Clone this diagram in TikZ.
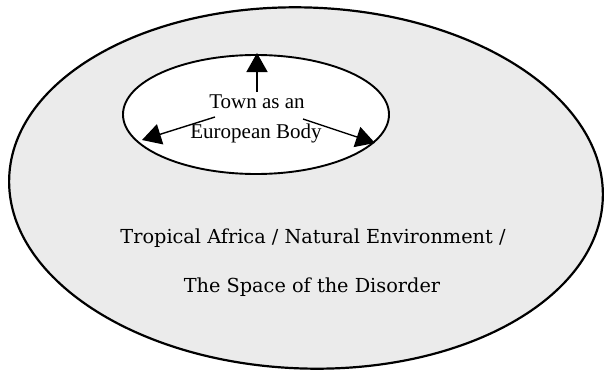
\documentclass[tikz,border=0pt]{standalone}
\usepackage{fontspec}
\setmainfont{Liberation Serif}
\newfontfamily\centfont{DejaVu Serif}
\usetikzlibrary{arrows.meta,shapes.geometric}
\tikzset{
  outerline/.style={line width=2.2pt, fill=black!8},
  innerline/.style={line width=1.9pt, fill=white},
  bigarrow/.style={line width=1.4pt, -{Triangle[length=19pt,width=21pt]}},
  towntext/.style={font=\fontsize{21}{25}\selectfont, inner sep=0pt},
  spacetext/.style={font=\centfont\fontsize{19.3}{23}\selectfont, inner sep=0pt}
}
\begin{document}
\begin{tikzpicture}[x=1pt,y=-1pt]
\useasboundingbox (0,0) rectangle (606,370);
\draw[outerline, rotate around={-2:(306,188)}] (306,188) ellipse [x radius=297, y radius=180.5];
\node[innerline, draw, ellipse, minimum width=266pt, minimum height=119pt, inner sep=0pt] (town) at (256,114.5) {};
\node[towntext] (t1) at (257,102) {Town as an};
\node[towntext] (t2) at (256,133) {European Body};
\coordinate (upS) at (257,92);
\coordinate (upT) at (257,53);
\coordinate (leftS) at (215,117);
\coordinate (leftT) at (142,140);
\coordinate (rightS) at (303,119);
\coordinate (rightT) at (375,143);
\draw[bigarrow] (upS) -- (upT);
\draw[bigarrow] (leftS) -- (leftT);
\draw[bigarrow] (rightS) -- (rightT);
\node[spacetext] (s1) at (313,238) {Tropical Africa / Natural Environment /};
\node[spacetext] (s2) at (312,287) {The Space of the Disorder};
\end{tikzpicture}
\end{document}
